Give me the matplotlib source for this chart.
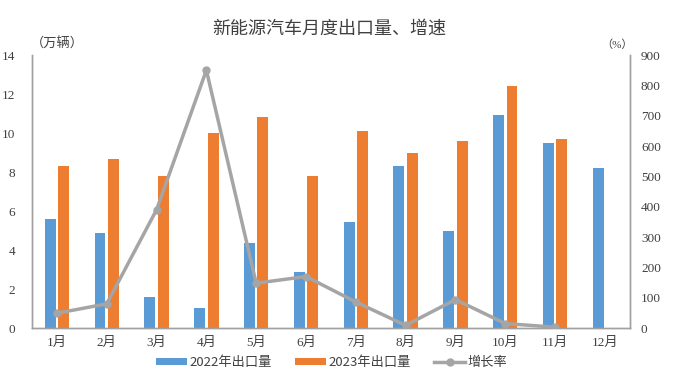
import matplotlib
matplotlib.use("Agg")
import matplotlib.pyplot as plt
import numpy as np

months = ["1月", "2月", "3月", "4月", "5月", "6月", "7月", "8月", "9月", "10月", "11月", "12月"]
exp2022 = [5.6, 4.85, 1.6, 1.05, 4.35, 2.9, 5.45, 8.3, 5.0, 10.9, 9.5, 8.2]
exp2023 = [8.3, 8.65, 7.8, 10.0, 10.8, 7.8, 10.1, 9.0, 9.6, 12.4, 9.7]
growth = [49, 80, 390, 850, 148, 170, 86, 9, 94, 15, 3]

plt.rcParams['font.family'] = ['Noto Sans CJK SC', 'DejaVu Sans']
serif = ['Liberation Serif', 'Noto Sans CJK SC']

fig = plt.figure(figsize=(6.84, 3.86), dpi=100)
ax = fig.add_axes([0.0468, 0.150, 0.874, 0.7075])
ax2 = ax.twinx()

x = np.arange(len(months))
w = 0.22
ax.bar(x[:len(exp2022)] - 0.135, exp2022, width=w, color='#5B9BD5', label='2022年出口量', zorder=2)
ax.bar(x[:len(exp2023)] + 0.135, exp2023, width=w, color='#ED7D31', label='2023年出口量', zorder=2)
ax2.plot(x[:len(growth)], growth, color='#A5A5A5', lw=2.5, marker='o', ms=5, label='增长率', zorder=3)

ax.set_xlim(-0.5, 11.5)
ax.set_ylim(0, 14)
ax.set_yticks(range(0, 15, 2))
ax2.set_ylim(0, 900)
ax2.set_yticks(range(0, 901, 100))

for a in (ax, ax2):
    for s in a.spines.values():
        s.set_color('#A0A0A0')
        s.set_linewidth(1.0)
    a.spines['top'].set_visible(False)
    a.tick_params(length=0, labelsize=9.5, colors='#404040')

ax.set_xticks(x)
ax.set_xticklabels(months, family=serif, fontsize=9.5)
for lab in ax.get_yticklabels():
    lab.set_family(serif)
for lab in ax2.get_yticklabels():
    lab.set_family(serif)
ax.tick_params(axis='y', pad=12)
ax2.tick_params(axis='y', pad=8)
ax.tick_params(axis='x', pad=6)

fig.text(0.045, 0.885, "（万辆）", fontsize=9.5, color='#404040', family=serif, ha='left', va='center')
fig.text(0.925, 0.885, "（%）", fontsize=8, color='#404040', family=serif, ha='right', va='center')
fig.text(0.482, 0.925, "新能源汽车月度出口量、增速", fontsize=13, color='#404040', family=serif, ha='center', va='center')

h1, l1 = ax.get_legend_handles_labels()
h2, l2 = ax2.get_legend_handles_labels()
fig.legend(h1 + h2, l1 + l2, loc='center', bbox_to_anchor=(0.485, 0.06), ncol=3, frameon=False,
           fontsize=9.5, handlelength=2.3, handleheight=0.4, columnspacing=1.8, handletextpad=0.2,
           labelcolor='#404040')

fig.savefig("out.png", dpi=100)
